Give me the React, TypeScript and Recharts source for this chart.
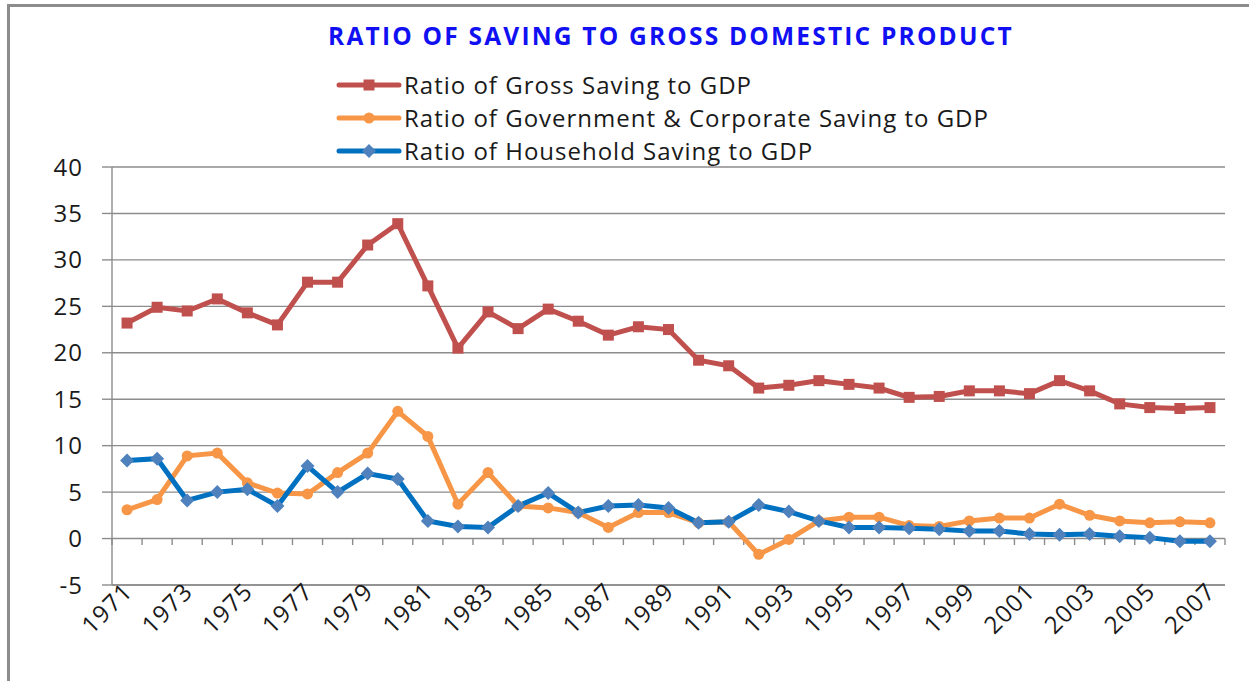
import React from "react";
import {
  LineChart,
  Line,
  XAxis,
  YAxis,
  CartesianGrid,
  ReferenceLine,
} from "recharts";

const YEARS = [
  1971, 1972, 1973, 1974, 1975, 1976, 1977, 1978, 1979, 1980,
  1981, 1982, 1983, 1984, 1985, 1986, 1987, 1988, 1989, 1990,
  1991, 1992, 1993, 1994, 1995, 1996, 1997, 1998, 1999, 2000,
  2001, 2002, 2003, 2004, 2005, 2006, 2007,
];

const GROSS = [
  23.2, 24.9, 24.5, 25.8, 24.3, 23.0, 27.6, 27.6, 31.6, 33.9,
  27.2, 20.5, 24.4, 22.6, 24.7, 23.4, 21.9, 22.8, 22.5, 19.2,
  18.6, 16.2, 16.5, 17.0, 16.6, 16.2, 15.2, 15.3, 15.9, 15.9,
  15.6, 17.0, 15.9, 14.5, 14.1, 14.0, 14.1,
];

const GOV_CORP = [
  3.1, 4.2, 8.9, 9.2, 6.0, 4.9, 4.8, 7.1, 9.2, 13.7,
  11.0, 3.7, 7.1, 3.5, 3.3, 2.8, 1.2, 2.8, 2.8, 1.7,
  1.8, -1.7, -0.1, 1.9, 2.3, 2.3, 1.4, 1.3, 1.9, 2.2,
  2.2, 3.7, 2.5, 1.9, 1.7, 1.8, 1.7,
];

const HOUSEHOLD = [
  8.4, 8.6, 4.1, 5.0, 5.3, 3.5, 7.8, 5.0, 7.0, 6.4,
  1.9, 1.3, 1.2, 3.5, 4.9, 2.8, 3.5, 3.6, 3.3, 1.7,
  1.8, 3.6, 2.9, 1.9, 1.2, 1.2, 1.1, 1.0, 0.8, 0.8,
  0.5, 0.4, 0.5, 0.25, 0.1, -0.3, -0.3,
];

const YEAR_TICKS = [
  1971, 1973, 1975, 1977, 1979, 1981, 1983, 1985, 1987, 1989,
  1991, 1993, 1995, 1997, 1999, 2001, 2003, 2005, 2007,
];
const Y_TICKS = [-5, 0, 5, 10, 15, 20, 25, 30, 35, 40];

const RED = "#c0504d";
const ORANGE = "#f79646";
const BLUE_LINE = "#0070c0";
const BLUE_MARK = "#4f81bd";
const GRID = "#8c8c8c";
const TEXT = "#1a1a1a";
const FONT = "'Open Sans', sans-serif";

const SERIES = [
  { key: "gross", name: "Ratio of Gross Saving to GDP", color: RED, marker: "square" },
  { key: "govCorp", name: "Ratio of Government & Corporate Saving to GDP", color: ORANGE, marker: "circle" },
  { key: "household", name: "Ratio of Household Saving to GDP", color: BLUE_LINE, marker: "diamond" },
];

const data = YEARS.map((year, i) => ({
  year,
  gross: GROSS[i],
  govCorp: GOV_CORP[i],
  household: HOUSEHOLD[i],
}));

// category boundaries, where Excel puts its little tick marks on the zero line
const boundaries = [YEARS[0] - 0.5, ...YEARS.map((y) => y + 0.5)];

const marker = (kind: string, cx: number, cy: number) => {
  if (kind === "square")
    return <rect x={cx - 5.5} y={cy - 5.5} width={11} height={11} fill={RED} />;
  if (kind === "circle") return <circle cx={cx} cy={cy} r={5.5} fill={ORANGE} />;
  const s = 7;
  return (
    <path
      d={`M${cx},${cy - s} L${cx + s},${cy} L${cx},${cy + s} L${cx - s},${cy} Z`}
      fill={BLUE_MARK}
    />
  );
};

const makeDot = (kind: string) => (props: any) => {
  const { cx, cy, index } = props;
  if (cx == null || cy == null) return <g key={index} />;
  return <g key={index}>{marker(kind, cx, cy)}</g>;
};

const YearTick = (props: any) => {
  const { x, y, payload } = props;
  const tx = x + 7;
  const ty = y;
  return (
    <text
      x={tx}
      y={ty}
      transform={`rotate(-45, ${tx}, ${ty})`}
      textAnchor="end"
      fontSize={24}
      letterSpacing={1.2}
      fontFamily={FONT}
      fill={TEXT}
    >
      {payload.value}
    </text>
  );
};

const ChartLegend = () => (
  <div style={{ position: "absolute", left: 336, top: 68 }}>
    {SERIES.map((s) => (
      <div key={s.key} style={{ display: "flex", alignItems: "center", height: 33 }}>
        <svg width={66} height={22}>
          <line x1={3} y1={11} x2={63} y2={11} stroke={s.color} strokeWidth={5} strokeLinecap="round" />
          {marker(s.marker, 33, 11)}
        </svg>
        <span
          style={{
            fontFamily: FONT,
            fontSize: 24,
            letterSpacing: 1,
            color: TEXT,
            marginLeft: 2,
            whiteSpace: "nowrap",
            lineHeight: "33px",
          }}
        >
          {s.name}
        </span>
      </div>
    ))}
  </div>
);

export default function App() {
  return (
    <div
      style={{
        position: "absolute",
        left: 0,
        top: 0,
        width: 1249,
        height: 681,
        background: "#fff",
        overflow: "hidden",
      }}
    >
      {/* outer frame, only its top and left edges are in view */}
      <div
        style={{
          position: "absolute",
          left: 7,
          top: 4,
          width: 1300,
          height: 700,
          borderTop: `3px solid ${GRID}`,
          borderLeft: `3px solid ${GRID}`,
        }}
      />
      <div
        style={{
          position: "absolute",
          top: 19,
          left: 0,
          width: 1342,
          textAlign: "center",
          fontFamily: FONT,
          fontWeight: 700,
          fontSize: 24.5,
          letterSpacing: 2.2,
          color: "#1010f2",
          whiteSpace: "nowrap",
        }}
      >
        RATIO OF SAVING TO GROSS DOMESTIC PRODUCT
      </div>
      <ChartLegend />
      <div style={{ position: "absolute", top: 0, left: 0 }}>
        <LineChart
          width={1249}
          height={681}
          data={data}
          margin={{ top: 167, right: 24, bottom: 16, left: 0 }}
        >
          <CartesianGrid vertical={false} stroke={GRID} strokeWidth={1.4} />
          <XAxis
            dataKey="year"
            type="number"
            domain={[1970.5, 2007.5]}
            ticks={YEAR_TICKS}
            interval={0}
            height={80}
            tickLine={false}
            axisLine={{ stroke: GRID, strokeWidth: 1.4 }}
            tick={<YearTick />}
          />
          <YAxis
            domain={[-5, 40]}
            ticks={Y_TICKS}
            interval={0}
            width={112}
            tickSize={10}
            tickMargin={19}
            axisLine={{ stroke: GRID, strokeWidth: 1.4 }}
            tickLine={{ stroke: GRID, strokeWidth: 1.4 }}
            tick={{ fontSize: 24, fontFamily: FONT, fill: TEXT, letterSpacing: 1 }}
          />
          {boundaries.map((b) => (
            <ReferenceLine
              key={b}
              segment={[
                { x: b, y: 0 },
                { x: b, y: -0.7 },
              ]}
              stroke={GRID}
              strokeWidth={1.4}
            />
          ))}
          {SERIES.map((s) => (
            <Line
              key={s.key}
              dataKey={s.key}
              name={s.name}
              stroke={s.color}
              strokeWidth={5}
              dot={makeDot(s.marker)}
              activeDot={false}
              isAnimationActive={false}
            />
          ))}
        </LineChart>
      </div>
    </div>
  );
}
